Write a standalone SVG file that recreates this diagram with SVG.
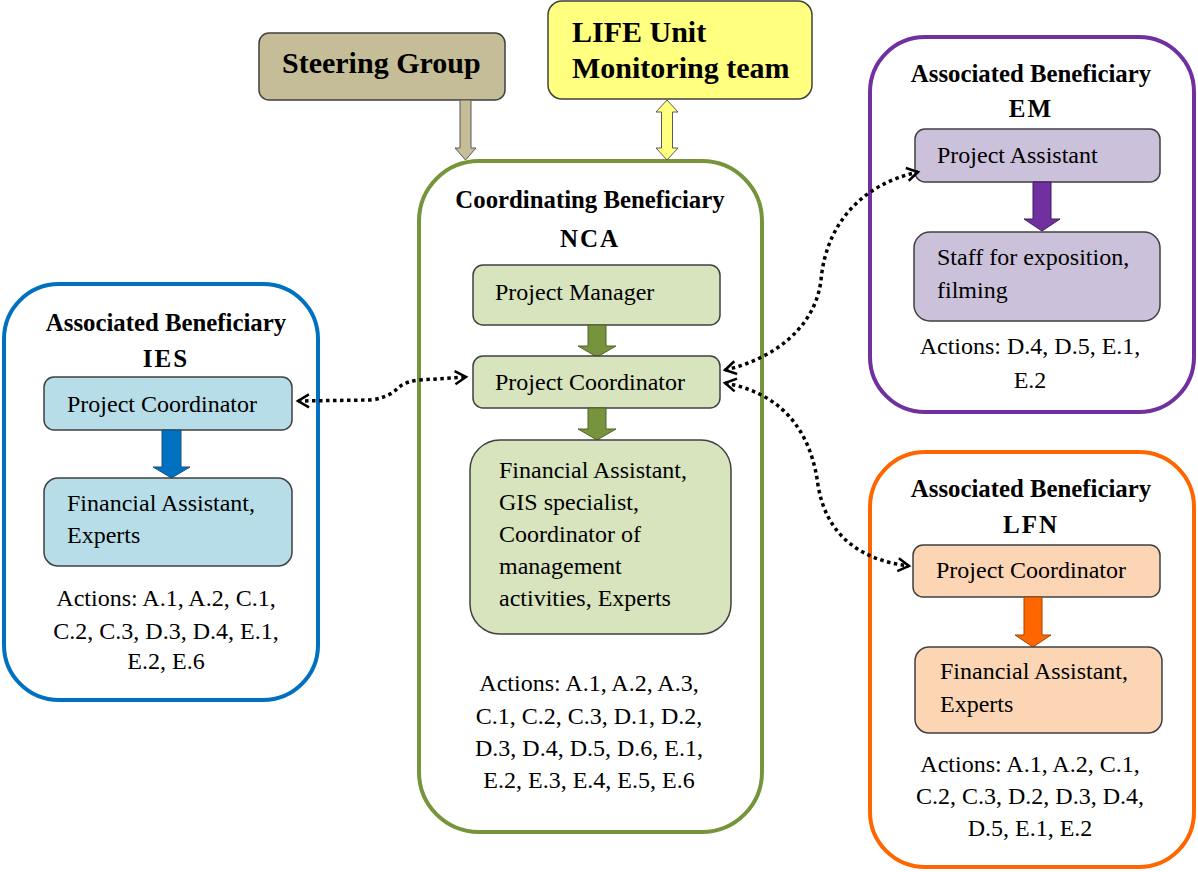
<svg xmlns="http://www.w3.org/2000/svg" width="1198" height="872" viewBox="0 0 1198 872" font-family="'Liberation Serif', 'DejaVu Serif', serif">
<style>
  text { font-family: 'Liberation Serif', 'DejaVu Serif', serif; fill: #000; }
  .b { font-size: 24px; }
  .h { font-size: 24.8px; font-weight: bold; text-anchor: middle; }
  .code { font-size: 25px; font-weight: bold; text-anchor: middle; letter-spacing: 2px; }
  .top { font-size: 30px; font-weight: bold; }
  .act { font-size: 24px; text-anchor: middle; }
  .outer { fill: #fff; stroke-width: 4; }
  .inner { stroke: #404040; stroke-width: 1.5; }
  .dot { fill: none; stroke: #000; stroke-width: 3.5; stroke-dasharray: 3.5 3.5; }
</style>
<defs>
  <marker id="chev" markerUnits="userSpaceOnUse" markerWidth="16" markerHeight="16" refX="13" refY="8" orient="auto-start-reverse">
    <path d="M2,1.5 L13,8 L2,14.5" fill="none" stroke="#000" stroke-width="2.5"/>
  </marker>
</defs>
<rect width="1198" height="872" fill="#fff"/>

<g id="steering">
  <rect x="259" y="33" width="246" height="67" rx="10" fill="#c4bd97" class="inner"/>
  <text x="282" y="73" class="top">Steering Group</text>
</g>

<g id="life">
  <rect x="548" y="1" width="264" height="98" rx="14" fill="#ffff80" class="inner"/>
  <text x="572" y="42" class="top">LIFE Unit</text>
  <text x="572" y="78" class="top">Monitoring team</text>
</g>

<g id="nca">
  <rect x="419" y="161" width="343" height="671" rx="60" class="outer" stroke="#77933c"/>
  <text x="590" y="208" class="h">Coordinating Beneficiary</text>
  <text x="590" y="247" class="code">NCA</text>
  <rect x="473" y="265" width="247" height="60" rx="10" fill="#d7e4bd" class="inner"/>
  <text x="495" y="300" class="b">Project Manager</text>
  <polygon points="588,325 606,325 606,346 616,346 597,357 578,346 588,346" fill="#77933c" stroke="#4f6228" stroke-width="1"/>
  <rect x="473" y="356" width="247" height="52" rx="10" fill="#d7e4bd" class="inner"/>
  <text x="495" y="390" class="b">Project Coordinator</text>
  <polygon points="588,408 606,408 606,429 616,429 597,440 578,429 588,429" fill="#77933c" stroke="#4f6228" stroke-width="1"/>
  <rect x="470" y="440" width="261" height="194" rx="30" fill="#d7e4bd" class="inner"/>
  <text x="499" y="478" class="b">Financial  Assistant,</text>
  <text x="499" y="510" class="b">GIS specialist,</text>
  <text x="499" y="542" class="b">Coordinator of</text>
  <text x="499" y="574" class="b">management</text>
  <text x="499" y="606" class="b">activities, Experts</text>
  <text x="589" y="691" class="act">Actions: A.1, A.2, A.3,</text>
  <text x="589" y="724" class="act">C.1, C.2, C.3, D.1, D.2,</text>
  <text x="589" y="756" class="act">D.3, D.4, D.5, D.6, E.1,</text>
  <text x="589" y="788" class="act">E.2, E.3, E.4, E.5, E.6</text>
</g>

<g id="ies">
  <rect x="4" y="284" width="314" height="416" rx="55" class="outer" stroke="#0070c0"/>
  <text x="166" y="331" class="h">Associated Beneficiary</text>
  <text x="166" y="367" class="code">IES</text>
  <rect x="44" y="377" width="248" height="53" rx="10" fill="#b7dee8" class="inner"/>
  <text x="67" y="412" class="b">Project Coordinator</text>
  <polygon points="162,430 181,430 181,467 190,467 171.5,478 153,467 162,467" fill="#0070c0" stroke="#1f4e79" stroke-width="1"/>
  <rect x="44" y="478" width="248" height="88" rx="14" fill="#b7dee8" class="inner"/>
  <text x="67" y="511" class="b">Financial  Assistant,</text>
  <text x="67" y="543" class="b">Experts</text>
  <text x="166" y="606" class="act">Actions: A.1, A.2, C.1,</text>
  <text x="166" y="639" class="act">C.2, C.3, D.3, D.4, E.1,</text>
  <text x="166" y="669" class="act">E.2, E.6</text>
</g>

<g id="em">
  <rect x="870" y="37" width="324" height="375" rx="55" class="outer" stroke="#7030a0"/>
  <text x="1031" y="82" class="h">Associated Beneficiary</text>
  <text x="1031" y="117" class="code">EM</text>
  <rect x="915" y="129" width="245" height="53" rx="10" fill="#ccc1da" class="inner"/>
  <text x="937" y="163" class="b">Project Assistant</text>
  <polygon points="1033,182 1051,182 1051,219 1060,219 1042,231 1024,219 1033,219" fill="#7030a0" stroke="#3f1d5c" stroke-width="1"/>
  <rect x="914" y="232" width="246" height="89" rx="16" fill="#ccc1da" class="inner"/>
  <text x="937" y="265" class="b">Staff for exposition,</text>
  <text x="937" y="298" class="b">filming</text>
  <text x="1030" y="354" class="act">Actions: D.4, D.5, E.1,</text>
  <text x="1030" y="388" class="act">E.2</text>
</g>

<g id="lfn">
  <rect x="870" y="452" width="324" height="415" rx="55" class="outer" stroke="#ff6600"/>
  <text x="1031" y="497" class="h">Associated Beneficiary</text>
  <text x="1031" y="533" class="code">LFN</text>
  <rect x="913" y="545" width="247" height="52" rx="10" fill="#fcd5b5" class="inner"/>
  <text x="936" y="578" class="b">Project Coordinator</text>
  <polygon points="1024,597 1042,597 1042,635 1051,635 1033,647 1015,635 1024,635" fill="#ff6600" stroke="#984807" stroke-width="1"/>
  <rect x="915" y="647" width="247" height="86" rx="14" fill="#fcd5b5" class="inner"/>
  <text x="940" y="679" class="b">Financial  Assistant,</text>
  <text x="940" y="712" class="b">Experts</text>
  <text x="1030" y="772" class="act">Actions: A.1, A.2, C.1,</text>
  <text x="1030" y="804" class="act">C.2, C.3, D.2, D.3, D.4,</text>
  <text x="1030" y="836" class="act">D.5, E.1, E.2</text>
</g>

<g id="connectors">
  <polygon points="460,100 471,100 471,148 476,148 465.5,160 455,148 460,148" fill="#c4bd97" stroke="#595959" stroke-width="1"/>
  <polygon points="667,100 678,112 672.5,112 672.5,148 678,148 667,160 656,148 661.5,148 661.5,112 656,112" fill="#ffff80" stroke="#595959" stroke-width="1"/>
  <path class="dot" d="M298,401 L370,400 Q388,398 398,388 Q406,381 420,380 L466,377" marker-start="url(#chev)" marker-end="url(#chev)"/>
  <path class="dot" d="M725,370 C770,360 815,330 821,280 C826,225 860,185 918,172" marker-start="url(#chev)" marker-end="url(#chev)"/>
  <path class="dot" d="M725,383 C790,395 812,440 818,485 C826,535 860,560 909,566" marker-start="url(#chev)" marker-end="url(#chev)"/>
</g>
</svg>
